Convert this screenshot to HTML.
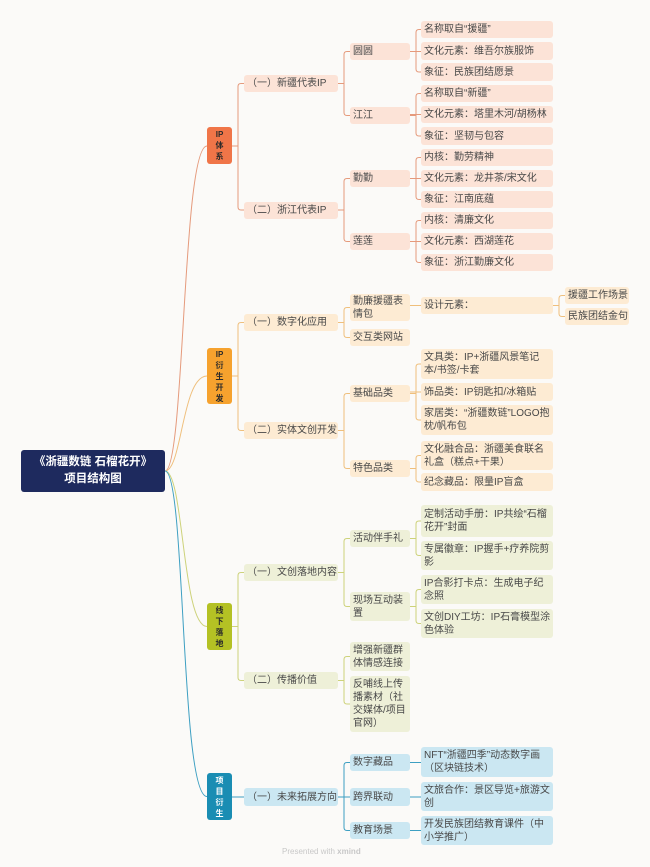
<!DOCTYPE html>
<html><head><meta charset="utf-8"><style>
html,body{margin:0;padding:0;}
body{width:650px;height:867px;background:#fbfaf8;position:relative;overflow:hidden;font-family:"Liberation Sans","Noto Sans CJK SC",sans-serif;}
.n{position:absolute;box-sizing:border-box;border-radius:3px;font-size:10px;color:#484848;padding:0 1px 0 3px;display:flex;align-items:center;line-height:13px;white-space:nowrap;}
.w{white-space:normal;word-break:break-all;}
.a{background:#fce3d7;}
.b{background:#fdebd3;}
.c{background:#eef0d8;}
.d{background:#cbe7f2;}
.l1{position:absolute;width:25px;left:207px;border-radius:3px;font-size:8px;font-weight:bold;color:#2a2a2a;text-align:center;display:flex;align-items:center;justify-content:center;line-height:11px;}
.root{position:absolute;left:21px;top:450px;width:144px;height:42px;background:#1e2a5e;border-radius:3px;color:#fff;font-weight:bold;font-size:11.5px;text-align:center;display:flex;align-items:center;justify-content:center;line-height:17px;}
svg{position:absolute;left:0;top:0;}
</style></head><body>
<svg width="650" height="867" fill="none" stroke-width="1">
<g stroke="#e59a7c">
<path d="M165 471 C185 471 182 146 207 146"/>
<path d="M232 146H238V86.5Q238 83.5 241 83.5H244M238 146V207Q238 210 241 210H244"/>
<path d="M338 83.5H344V54.5Q344 51.5 347 51.5H350M344 83.5V112.5Q344 115.5 347 115.5H350"/>
<path d="M338 210H344V181.5Q344 178.5 347 178.5H350M344 210V238.5Q344 241.5 347 241.5H350"/>
<path d="M410 51.5H416V32.5Q416 29.5 419 29.5H421M410 51.5H421M416 51.5V69Q416 72 419 72H421"/>
<path d="M410 115.5H416V96.5Q416 93.5 419 93.5H421M410 114.5H421M416 115.5V133Q416 136 419 136H421"/>
<path d="M410 178.5H416V160.5Q416 157.5 419 157.5H421M410 178.5H421M416 178.5V196.5Q416 199.5 419 199.5H421"/>
<path d="M410 241.5H416V223.5Q416 220.5 419 220.5H421M410 241.5H421M416 241.5V259.5Q416 262.5 419 262.5H421"/>
</g>
<g stroke="#efbf7c">
<path d="M165 471 C182 471 182 376 207 376"/>
<path d="M232 376H238V325.5Q238 322.5 241 322.5H244M238 376V427.5Q238 430.5 241 430.5H244"/>
<path d="M338 322.5H344V310.5Q344 307.5 347 307.5H350M344 322.5V334.5Q344 337.5 347 337.5H350"/>
<path d="M338 430.5H344V396.5Q344 393.5 347 393.5H350M344 430.5V465.5Q344 468.5 347 468.5H350"/>
<path d="M410 305.5H421M553 305.5H559V298.5Q559 295.5 562 295.5H565M559 305.5V313.5Q559 316.5 562 316.5H565"/>
<path d="M410 393.5H416V367Q416 364 419 364H421M410 392H421M416 393.5V417Q416 420 419 420H421"/>
<path d="M410 468.5H416V458.5Q416 455.5 419 455.5H421M416 468.5V479Q416 482 419 482H421"/>
</g>
<g stroke="#cdd27a">
<path d="M165 471 C184 471 182 626.5 207 626.5"/>
<path d="M232 626.5H238V575.5Q238 572.5 241 572.5H244M238 626.5V677.5Q238 680.5 241 680.5H244"/>
<path d="M338 572.5H344V541.5Q344 538.5 347 538.5H350M344 572.5V603.5Q344 606.5 347 606.5H350"/>
<path d="M338 680.5H344V659.5Q344 656.5 347 656.5H350M344 680.5V701Q344 704 347 704H350"/>
<path d="M410 538.5H416V524Q416 521 419 521H421M416 538.5V552.5Q416 555.5 419 555.5H421"/>
<path d="M410 606.5H416V592.5Q416 589.5 419 589.5H421M416 606.5V620.5Q416 623.5 419 623.5H421"/>
</g>
<g stroke="#3d9fc2">
<path d="M165 471 C186 471 180 796.5 207 796.5"/>
<path d="M232 797H244"/>
<path d="M338 797H344V765.5Q344 762.5 347 762.5H350M338 797H350M344 797V827.5Q344 830.5 347 830.5H350"/>
<path d="M410 762.5H421M410 797H421M410 830.5H421"/>
</g>
</svg>

<div class="root">《浙疆数链 石榴花开》<br>项目结构图</div>

<div class="l1" style="top:127px;height:37px;background:#f07548;">IP<br>体<br>系</div>
<div class="l1" style="top:348px;height:56px;background:#f6a22e;">IP<br>衍<br>生<br>开<br>发</div>
<div class="l1" style="top:603px;height:47px;background:#b4c124;">线<br>下<br>落<br>地</div>
<div class="l1" style="top:773px;height:47px;background:#1a8db3;color:#fff;">项<br>目<br>衍<br>生</div>

<!-- A -->
<div class="n a" style="left:244px;top:75px;width:94px;height:17px;">（一）新疆代表IP</div>
<div class="n a" style="left:244px;top:202px;width:94px;height:17px;">（二）浙江代表IP</div>
<div class="n a" style="left:350px;top:43px;width:60px;height:17px;">圆圆</div>
<div class="n a" style="left:350px;top:107px;width:60px;height:17px;">江江</div>
<div class="n a" style="left:350px;top:170px;width:60px;height:17px;">勤勤</div>
<div class="n a" style="left:350px;top:233px;width:60px;height:17px;">莲莲</div>
<div class="n a" style="left:421px;top:21px;width:132px;height:17px;">名称取自“援疆”</div>
<div class="n a" style="left:421px;top:42px;width:132px;height:18px;">文化元素：维吾尔族服饰</div>
<div class="n a" style="left:421px;top:63px;width:132px;height:18px;">象征：民族团结愿景</div>
<div class="n a" style="left:421px;top:85px;width:132px;height:17px;">名称取自“新疆”</div>
<div class="n a" style="left:421px;top:106px;width:132px;height:17px;">文化元素：塔里木河/胡杨林</div>
<div class="n a" style="left:421px;top:127px;width:132px;height:18px;">象征：坚韧与包容</div>
<div class="n a" style="left:421px;top:149px;width:132px;height:17px;">内核：勤劳精神</div>
<div class="n a" style="left:421px;top:170px;width:132px;height:17px;">文化元素：龙井茶/宋文化</div>
<div class="n a" style="left:421px;top:191px;width:132px;height:17px;">象征：江南底蕴</div>
<div class="n a" style="left:421px;top:212px;width:132px;height:17px;">内核：清廉文化</div>
<div class="n a" style="left:421px;top:233px;width:132px;height:17px;">文化元素：西湖莲花</div>
<div class="n a" style="left:421px;top:254px;width:132px;height:17px;">象征：浙江勤廉文化</div>

<!-- B -->
<div class="n b" style="left:244px;top:314px;width:94px;height:17px;">（一）数字化应用</div>
<div class="n b" style="left:244px;top:422px;width:94px;height:17px;">（二）实体文创开发</div>
<div class="n b w" style="left:350px;top:294px;width:60px;height:27px;">勤廉援疆表情包</div>
<div class="n b" style="left:350px;top:329px;width:60px;height:17px;">交互类网站</div>
<div class="n b" style="left:350px;top:385px;width:60px;height:17px;">基础品类</div>
<div class="n b" style="left:350px;top:460px;width:60px;height:17px;">特色品类</div>
<div class="n b" style="left:421px;top:297px;width:132px;height:17px;">设计元素：</div>
<div class="n b" style="left:565px;top:287px;width:64px;height:17px;">援疆工作场景</div>
<div class="n b" style="left:565px;top:308px;width:64px;height:17px;">民族团结金句</div>
<div class="n b w" style="left:421px;top:349px;width:132px;height:30px;">文具类：IP+浙疆风景笔记本/书签/卡套</div>
<div class="n b" style="left:421px;top:383px;width:132px;height:18px;">饰品类：IP钥匙扣/冰箱贴</div>
<div class="n b w" style="left:421px;top:405px;width:132px;height:30px;">家居类：“浙疆数链”LOGO抱枕/帆布包</div>
<div class="n b w" style="left:421px;top:441px;width:132px;height:29px;">文化融合品：浙疆美食联名礼盒（糕点+干果）</div>
<div class="n b" style="left:421px;top:473px;width:132px;height:18px;">纪念藏品：限量IP盲盒</div>

<!-- C -->
<div class="n c" style="left:244px;top:564px;width:94px;height:17px;">（一）文创落地内容</div>
<div class="n c" style="left:244px;top:672px;width:94px;height:17px;">（二）传播价值</div>
<div class="n c" style="left:350px;top:530px;width:60px;height:17px;">活动伴手礼</div>
<div class="n c w" style="left:350px;top:592px;width:60px;height:29px;">现场互动装置</div>
<div class="n c w" style="left:350px;top:642px;width:60px;height:29px;">增强新疆群体情感连接</div>
<div class="n c w" style="left:350px;top:676px;width:60px;height:56px;">反哺线上传播素材（社交媒体/项目官网）</div>
<div class="n c w" style="left:421px;top:505px;width:132px;height:32px;">定制活动手册：IP共绘“石榴花开”封面</div>
<div class="n c w" style="left:421px;top:541px;width:132px;height:29px;">专属徽章：IP握手+疗养院剪影</div>
<div class="n c w" style="left:421px;top:575px;width:132px;height:29px;">IP合影打卡点：生成电子纪念照</div>
<div class="n c w" style="left:421px;top:609px;width:132px;height:29px;">文创DIY工坊：IP石膏模型涂色体验</div>

<!-- D -->
<div class="n d" style="left:244px;top:788px;width:94px;height:18px;">（一）未来拓展方向</div>
<div class="n d" style="left:350px;top:754px;width:60px;height:17px;">数字藏品</div>
<div class="n d" style="left:350px;top:788px;width:60px;height:18px;">跨界联动</div>
<div class="n d" style="left:350px;top:822px;width:60px;height:17px;">教育场景</div>
<div class="n d w" style="left:421px;top:747px;width:132px;height:30px;">NFT“浙疆四季”动态数字画（区块链技术）</div>
<div class="n d w" style="left:421px;top:782px;width:132px;height:29px;">文旅合作：景区导览+旅游文创</div>
<div class="n d w" style="left:421px;top:816px;width:132px;height:29px;">开发民族团结教育课件（中小学推广）</div>

<div style="position:absolute;left:282px;top:847px;font-size:8px;color:#c8c8c8;">Presented with <b>xmind</b></div>
</body></html>
